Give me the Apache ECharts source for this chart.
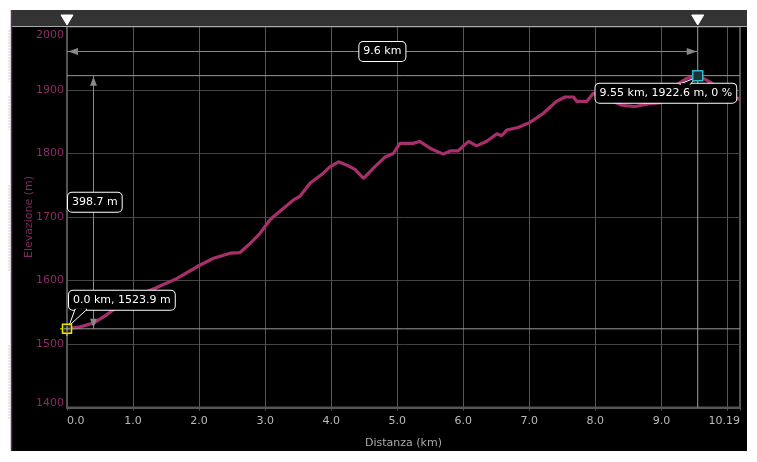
<!DOCTYPE html>
<html><head><meta charset="utf-8">
<script src="https://cdn.jsdelivr.net/npm/echarts@6/dist/echarts.min.js"></script>
<style>html,body{margin:0;padding:0;background:#fff;}#c{width:757px;height:462px;}</style>
</head><body><div id="c"></div>
<script>
// ---- data ----
const distanceKm = [0, 0.2, 0.4, 0.6, 0.9, 1.36, 1.66, 2.01, 2.22, 2.47, 2.62, 2.77, 2.92, 3.07, 3.12, 3.27, 3.43, 3.53, 3.68, 3.88, 3.98, 4.11, 4.23, 4.36, 4.49, 4.64, 4.81, 4.94, 5.04, 5.24, 5.34, 5.52, 5.70, 5.80, 5.92, 6.08, 6.20, 6.35, 6.51, 6.58, 6.66, 6.83, 7.01, 7.21, 7.41, 7.54, 7.67, 7.72, 7.87, 7.97, 8.2, 8.4, 8.6, 8.8, 9.0, 9.1, 9.23, 9.38, 9.55, 9.68, 9.85, 10.0, 10.19];
const elevationM = [1523.9, 1527, 1533, 1546, 1569, 1589, 1603, 1624, 1635, 1643, 1644, 1658, 1674, 1695, 1700, 1713, 1727, 1733, 1753, 1769, 1779, 1787, 1782, 1775, 1761, 1777, 1794, 1800, 1816, 1816, 1819, 1807, 1799, 1804, 1804, 1819, 1812, 1819, 1831, 1828, 1837, 1841, 1849, 1863, 1882, 1889, 1889, 1882, 1882, 1895, 1885, 1876, 1874, 1878, 1880, 1890, 1908, 1918, 1922.6, 1916, 1905, 1895, 1885];
const xTickValues = [0, 1, 2, 3, 4, 5, 6, 7, 8, 9, 10.19];
const yTickValues = [1400, 1500, 1600, 1700, 1800, 1900, 2000];
const startPoint = [0, 1523.9];
const peakPoint = [9.55, 1922.6];
const peakGradePct = 0;
const xName = 'Distanza (km)';
const yName = 'Elevazione (m)';

const FONT = 'DejaVu Sans';
const chart = echarts.init(document.getElementById('c'));
const xMax = xTickValues[xTickValues.length - 1];
const yMin = yTickValues[0], yMax = yTickValues[yTickValues.length - 1];

chart.setOption({
  backgroundColor: '#fff',
  animation: false,
  grid: { left: 67, right: 17, top: 26.5, bottom: 54.5, show: true, borderColor: '#555', borderWidth: 2, backgroundColor: 'transparent' },
  xAxis: {
    type: 'value', min: 0, max: xMax, interval: 1,
    name: xName, nameLocation: 'middle', nameGap: 30,
    nameTextStyle: { color: '#aaa', fontSize: 11, fontFamily: FONT },
    axisLine: { show: true, lineStyle: { color: '#555', width: 2 } },
    axisTick: { show: true, length: 3, lineStyle: { color: '#555' } },
    axisLabel: {
      customValues: xTickValues,
      formatter: v => (v === xMax ? String(xMax) : v.toFixed(1)),
      color: '#bbb', fontSize: 11, fontFamily: FONT, margin: 8,
      alignMinLabel: 'left', alignMaxLabel: 'right'
    },
    splitLine: { show: true, lineStyle: { color: '#555', width: 1 } }
  },
  yAxis: {
    type: 'value', min: yMin, max: yMax, interval: 100,
    name: yName, nameLocation: 'middle', nameGap: 32, nameRotate: 90, nameMoveOverlap: false,
    nameTextStyle: { color: '#7e2b5d', fontSize: 11, fontFamily: FONT },
    axisLine: { show: true, lineStyle: { color: '#555', width: 2 } },
    axisTick: { show: false },
    axisLabel: {
      color: '#8e2b63', fontSize: 11, fontFamily: FONT, margin: 3,
      formatter: v => (v === yMax ? '{t|' + v + '}' : v === yMin ? '{b|' + v + '}' : String(v)),
      rich: {
        t: { padding: [17, 0, 0, 0], color: '#8e2b63', fontSize: 11, fontFamily: FONT },
        b: { padding: [0, 0, 9, 0], color: '#8e2b63', fontSize: 11, fontFamily: FONT }
      }
    },
    splitLine: { show: true, lineStyle: { color: '#444', width: 1 } }
  },
  series: [{
    type: 'line', silent: true, showSymbol: false, z: 3,
    data: distanceKm.map((d, i) => [d, elevationM[i]]),
    lineStyle: { color: '#a82f6c', width: 3.2 }
  }]
});

// ---- annotations placed from data coordinates ----
const P = v => chart.convertToPixel({ gridIndex: 0 }, v);
const p0 = P(startPoint), p1 = P(peakPoint);
const rb = P([xMax, yMin]);
const rightX = rb[0], bottomY = rb[1], topY = 26.5;
const G = [];
const line = (x1, y1, x2, y2, stroke, w, z, dash) => G.push({ type: 'line', z: z || 10, silent: true, shape: { x1, y1, x2, y2 }, style: { stroke, lineWidth: w || 1, lineDash: dash || null } });
const poly = (pts, fill, stroke, z) => G.push({ type: 'polygon', z: z || 10, silent: true, shape: { points: pts }, style: { fill, stroke: stroke || null, lineWidth: 1 } });
const box = (text, x, y, align, vAlign, z) => G.push({ type: 'text', z: z || 20, silent: true, x, y, style: { text, fill: '#fff', font: '11px ' + FONT, align, verticalAlign: vAlign, backgroundColor: '#000', borderColor: '#fff', borderWidth: 1, borderRadius: 4, padding: [4, 4, 4, 4] } });

// background panel
G.push({ type: 'rect', z: -100, silent: true, shape: { x: 11, y: 10, width: 736, height: 441 }, style: { fill: '#000' } });
// left strip
line(11.5, 10, 11.5, 451, '#5f2d5f', 1.5, 60);
[[30, 82], [96, 130], [185, 272], [345, 420]].forEach(r => line(9.5, r[0], 9.5, r[1], '#ddd', 2, 60, [2, 1]));
// top bar
G.push({ type: 'rect', z: 50, silent: true, shape: { x: 11, y: 10, width: 736, height: 16 }, style: { fill: '#333' } });
line(11, 26.5, 747, 26.5, '#aaa', 1, 51);
[p0[0], p1[0]].forEach(x => poly([[x - 6, 15], [x + 6, 15], [x, 25]], '#fff', '#fff', 52));

// reference lines
line(p1[0], topY, p1[0], bottomY, '#a0a0a0', 1, 8);
line(p0[0], p1[1], rightX, p1[1], '#999', 1, 8);
line(p0[0], p0[1], rightX, p0[1], '#999', 1, 8);

// horizontal dimension
const dimY = 51.5;
line(p0[0], dimY, p1[0], dimY, '#888', 1, 9);
poly([[p0[0] + 1, dimY], [p0[0] + 11, dimY - 3.5], [p0[0] + 11, dimY + 3.5]], '#888', null, 9);
poly([[p1[0] - 1, dimY], [p1[0] - 11, dimY - 3.5], [p1[0] - 11, dimY + 3.5]], '#888', null, 9);
box((peakPoint[0] - startPoint[0]).toFixed(1) + ' km', (p0[0] + p1[0]) / 2, dimY, 'center', 'middle');

// vertical dimension
const dimX = p0[0] + 26.5;
line(dimX, p1[1], dimX, p0[1], '#888', 1, 9);
poly([[dimX, p1[1] + 1], [dimX - 3.5, p1[1] + 10], [dimX + 3.5, p1[1] + 10]], '#888', null, 9);
poly([[dimX, p0[1] - 1], [dimX - 3.5, p0[1] - 10], [dimX + 3.5, p0[1] - 10]], '#888', null, 9);
box((peakPoint[1] - startPoint[1]).toFixed(1) + ' m', p0[0] + 1, (p0[1] + p1[1]) / 2, 'left', 'middle');

// start callout
const sBot = p0[1] - 19;
box(startPoint[0].toFixed(1) + ' km, ' + startPoint[1].toFixed(1) + ' m', p0[0] + 2, sBot, 'left', 'bottom');
poly([[p0[0] + 8, sBot - 0.5], [p0[0] + 2, p0[1] - 3], [p0[0] + 20, sBot - 0.5]], '#000', '#fff', 21);
line(p0[0] + 8.8, sBot - 0.5, p0[0] + 18.8, sBot - 0.5, '#000', 2, 22);

// peak callout
const pTop = p1[1] + 8;
box(peakPoint[0].toFixed(2) + ' km, ' + peakPoint[1].toFixed(1) + ' m, ' + peakGradePct + ' %', p1[0] + 38.5, pTop, 'right', 'top');
poly([[p1[0] - 18, pTop + 0.5], [p1[0] - 2, p1[1] + 2], [p1[0] - 7, pTop + 0.5]], '#000', '#fff', 21);
line(p1[0] - 17, pTop + 0.5, p1[0] - 8, pTop + 0.5, '#000', 2, 22);

// point markers
G.push({ type: 'rect', z: 30, silent: true, shape: { x: p0[0] - 4.5, y: p0[1] - 4.5, width: 9, height: 9 }, style: { fill: 'rgba(40,40,20,0.8)', stroke: '#e8e800', lineWidth: 1.5 } });
line(p0[0] - 3, p0[1], p0[0] + 3, p0[1], '#aaa', 1, 31);
line(p0[0], p0[1] - 3, p0[0], p0[1] + 3, '#aaa', 1, 31);
line(p0[0] - 7, p0[1], p0[0] - 4.5, p0[1], '#e8e800', 1, 31);
line(p0[0], p0[1] + 4.5, p0[0], p0[1] + 7, '#e8e800', 1, 31);
G.push({ type: 'rect', z: 30, silent: true, shape: { x: p1[0] - 5, y: p1[1] - 5, width: 10, height: 10 }, style: { fill: '#1c3236', stroke: '#35b8c8', lineWidth: 1.5 } });

chart.setOption({ graphic: G });
</script></body></html>
